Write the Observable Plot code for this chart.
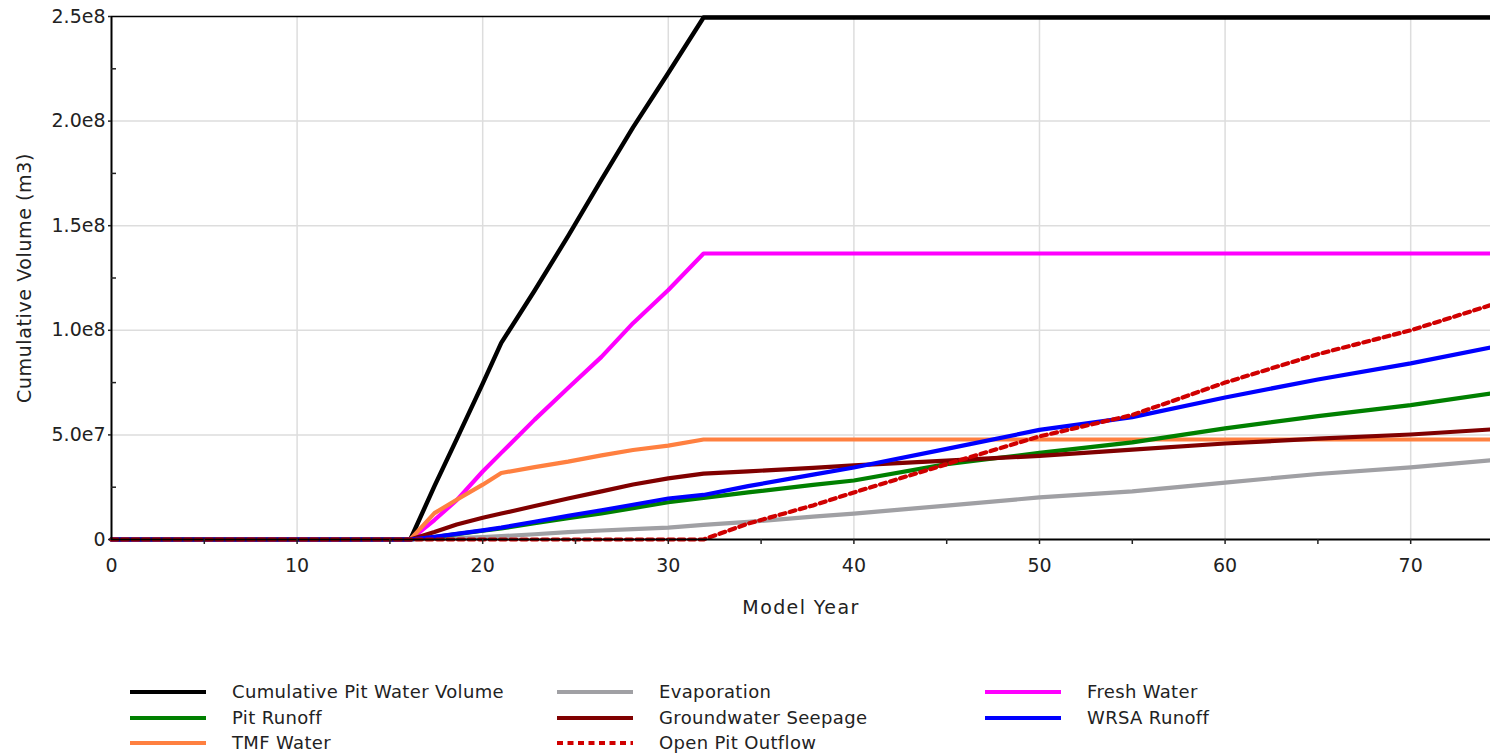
<!DOCTYPE html>
<html>
<head>
<meta charset="utf-8">
<script src="https://cdn.jsdelivr.net/npm/d3@7"></script>
<script src="https://cdn.jsdelivr.net/npm/@observablehq/plot@0.6"></script>
<style>
  body { margin: 0; background: #fff; }
  #wrap { width: 1490px; font-family: "DejaVu Sans", sans-serif; color: #222; }
  #legend { position: relative; width: 1490px; height: 116px; }
  .item { position: absolute; height: 20px; }
  .item svg { position: absolute; left: 0; top: 0; }
  .item span { position: absolute; top: 0; line-height: 20px; font-size: 18px; letter-spacing: 0.35px; white-space: nowrap; }
</style>
</head>
<body>
<div id="wrap">
  <div id="chart"></div>
  <div id="legend"></div>
</div>
<script>
// ---- data ----
const years = [0, 16.1, 17.4, 18.6, 20, 21, 22.8, 24.6, 26.4, 28.1, 30, 31.9, 34.3, 37.8, 40, 45, 50, 55, 60, 65, 70, 74.3];

const seriesNames = [
  "Cumulative Pit Water Volume", "Pit Runoff", "TMF Water",
  "Evaporation", "Groundwater Seepage", "Open Pit Outflow",
  "Fresh Water", "WRSA Runoff"
];

const cumulativePitWater = [0, 0, 25.5e6, 48e6, 74.5e6, 94e6, 119e6, 145e6, 172e6, 197e6, 223e6, 249.5e6, 249.5e6, 249.5e6, 249.5e6, 249.5e6, 249.5e6, 249.5e6, 249.5e6, 249.5e6, 249.5e6, 249.5e6];
const pitRunoff          = [0, 0, 1.2e6, 2.6e6, 4.2e6, 5.3e6, 7.8e6, 10.2e6, 12.5e6, 15e6, 17.8e6, 19.9e6, 22.5e6, 26.1e6, 28.2e6, 36e6, 41.4e6, 46.4e6, 53.1e6, 59e6, 64.2e6, 69.8e6];
const tmfWater           = [0, 0, 12.6e6, 19e6, 26.2e6, 31.8e6, 34.6e6, 37.2e6, 40.2e6, 42.8e6, 44.9e6, 47.8e6, 47.8e6, 47.8e6, 47.8e6, 47.8e6, 47.8e6, 47.8e6, 47.8e6, 47.8e6, 47.8e6, 47.8e6];
const evaporation        = [0, 0, 0.3e6, 0.7e6, 1.2e6, 1.6e6, 2.5e6, 3.5e6, 4.3e6, 5e6, 5.7e6, 7e6, 8.4e6, 10.9e6, 12.4e6, 16.2e6, 20.1e6, 23e6, 27.2e6, 31.3e6, 34.5e6, 37.8e6];
const groundwaterSeepage = [0, 0, 3.6e6, 7.2e6, 10.4e6, 12.4e6, 16e6, 19.6e6, 23e6, 26.3e6, 29.2e6, 31.5e6, 32.6e6, 34.2e6, 35.4e6, 37.7e6, 40e6, 43e6, 45.9e6, 48.2e6, 50.2e6, 52.6e6];
const openPitOutflow     = [0, 0, 0, 0, 0, 0, 0, 0, 0, 0, 0, 0, 7.6e6, 16.3e6, 22.5e6, 36e6, 49.3e6, 59.5e6, 75e6, 88.6e6, 100e6, 112e6];
const freshWater         = [0, 0, 9.3e6, 18.8e6, 32.5e6, 41.4e6, 57.3e6, 72.4e6, 87.3e6, 103.4e6, 119.3e6, 136.7e6, 136.7e6, 136.7e6, 136.7e6, 136.7e6, 136.7e6, 136.7e6, 136.7e6, 136.7e6, 136.7e6, 136.7e6];
const wrsaRunoff         = [0, 0, 1.3e6, 2.7e6, 4.4e6, 5.7e6, 8.5e6, 11.3e6, 14e6, 16.6e6, 19.6e6, 21.3e6, 25.5e6, 31e6, 34.4e6, 43.3e6, 52.4e6, 58.5e6, 67.9e6, 76.5e6, 84.2e6, 91.8e6];

const xMajorTicks = [0, 10, 20, 30, 40, 50, 60, 70];
const xTickLabels = ["0", "10", "20", "30", "40", "50", "60", "70"];
const xAllTicks = [5, 10, 15, 20, 25, 30, 35, 40, 45, 50, 55, 60, 65, 70];
const yMajorTicks = [0, 5e7, 1e8, 1.5e8, 2e8, 2.5e8];
const yTickLabels = ["0", "5.0e7", "1.0e8", "1.5e8", "2.0e8", "2.5e8"];
const yMinorTicks = [2.5e7, 7.5e7, 1.25e8, 1.75e8, 2.25e8];

// ---- styles ----
const valuesByName = {
  "Cumulative Pit Water Volume": cumulativePitWater,
  "Pit Runoff": pitRunoff,
  "TMF Water": tmfWater,
  "Evaporation": evaporation,
  "Groundwater Seepage": groundwaterSeepage,
  "Open Pit Outflow": openPitOutflow,
  "Fresh Water": freshWater,
  "WRSA Runoff": wrsaRunoff
};
const styleByName = {
  "Cumulative Pit Water Volume": {stroke: "#000000", width: 4.4},
  "Pit Runoff": {stroke: "#008000", width: 4.2},
  "TMF Water": {stroke: "#ff8040", width: 4.2},
  "Evaporation": {stroke: "#a0a0a4", width: 4.2},
  "Groundwater Seepage": {stroke: "#800000", width: 4.2},
  "Open Pit Outflow": {stroke: "#d00000", width: 4.2, dash: "6,4.5"},
  "Fresh Water": {stroke: "#ff00ff", width: 4.2},
  "WRSA Runoff": {stroke: "#0000ff", width: 4.2}
};
const drawOrder = ["Cumulative Pit Water Volume", "Fresh Water", "TMF Water", "Evaporation", "Pit Runoff", "Groundwater Seepage", "WRSA Runoff", "Open Pit Outflow"];

const lineMarks = drawOrder.map(name => {
  const vals = valuesByName[name];
  const rows = years.map((yr, i) => ({year: yr, value: vals[i]}));
  const s = styleByName[name];
  return Plot.line(rows, {x: "year", y: "value", stroke: s.stroke, strokeWidth: s.width, strokeDasharray: s.dash, strokeLinejoin: "round"});
});

const chart = Plot.plot({
  width: 1490,
  height: 640,
  marginLeft: 111,
  marginRight: 0,
  marginTop: 16,
  marginBottom: 101,
  x: {domain: [0, 74.3]},
  y: {domain: [0, 2.5e8]},
  style: {fontFamily: "DejaVu Sans, sans-serif", fontSize: "19px", color: "#222", background: "#fff", overflow: "visible"},
  marks: [
    Plot.gridX(xMajorTicks.filter(d => d > 0), {stroke: "#dddddd", strokeOpacity: 1, strokeWidth: 1.5}),
    Plot.gridY(yMajorTicks.filter(d => d > 0 && d < 2.5e8), {stroke: "#dddddd", strokeOpacity: 1, strokeWidth: 1.5}),
    ...lineMarks,
    Plot.ruleY([2.5e8], {stroke: "#000", strokeWidth: 1.5}),
    Plot.ruleX([0], {stroke: "#000", strokeWidth: 2}),
    Plot.ruleY([0], {stroke: "#000", strokeWidth: 2}),
    Plot.axisX({ticks: xMajorTicks, tickSize: 0, tickPadding: 19, tickFormat: d => xTickLabels[xMajorTicks.indexOf(d)], label: null, fontSize: 19}),
    Plot.axisX({ticks: xAllTicks, tickSize: 5, tickFormat: () => "", label: null, strokeWidth: 1.5}),
    Plot.axisY({ticks: yMajorTicks, tickSize: 3, tickPadding: 3, tickFormat: d => yTickLabels[yMajorTicks.indexOf(d)], label: null, fontSize: 19, strokeWidth: 1.5}),
    Plot.axisY({ticks: yMinorTicks, tickSize: -5, tickFormat: () => "", label: null, strokeWidth: 1.5}),
    Plot.text(["Model Year"], {frameAnchor: "bottom", dy: 68, lineAnchor: "middle", fontSize: 19, fill: "#222"}),
    Plot.text(["Cumulative Volume (m3)"], {frameAnchor: "left", dx: -87, rotate: -90, lineAnchor: "middle", textAnchor: "middle", fontSize: 19, fill: "#222"})
  ]
});
document.getElementById("chart").appendChild(chart);
// letter spacing for axis titles (reference font is wider)
chart.querySelectorAll("text").forEach(t => {
  if (t.textContent === "Model Year") t.setAttribute("letter-spacing", "1.4");
  if (t.textContent === "Cumulative Volume (m3)") t.setAttribute("letter-spacing", "0.6");
});

// ---- legend ----
const legendCols = [130, 557, 985];
const legendRows = [52, 78, 103];
const legend = document.getElementById("legend");
seriesNames.forEach((name, i) => {
  const col = Math.floor(i / 3), row = i % 3;
  const s = styleByName[name];
  const div = document.createElement("div");
  div.className = "item";
  div.style.left = legendCols[col] + "px";
  div.style.top = (legendRows[row] - 10) + "px";
  div.style.width = "420px";
  div.innerHTML = `<svg width="80" height="20"><line x1="0" x2="76" y1="10" y2="10" stroke="${s.stroke}" stroke-width="4" ${s.dash ? `stroke-dasharray="${s.dash}"` : ""}/></svg><span style="left:102px">${name}</span>`;
  legend.appendChild(div);
});
</script>
</body>
</html>
